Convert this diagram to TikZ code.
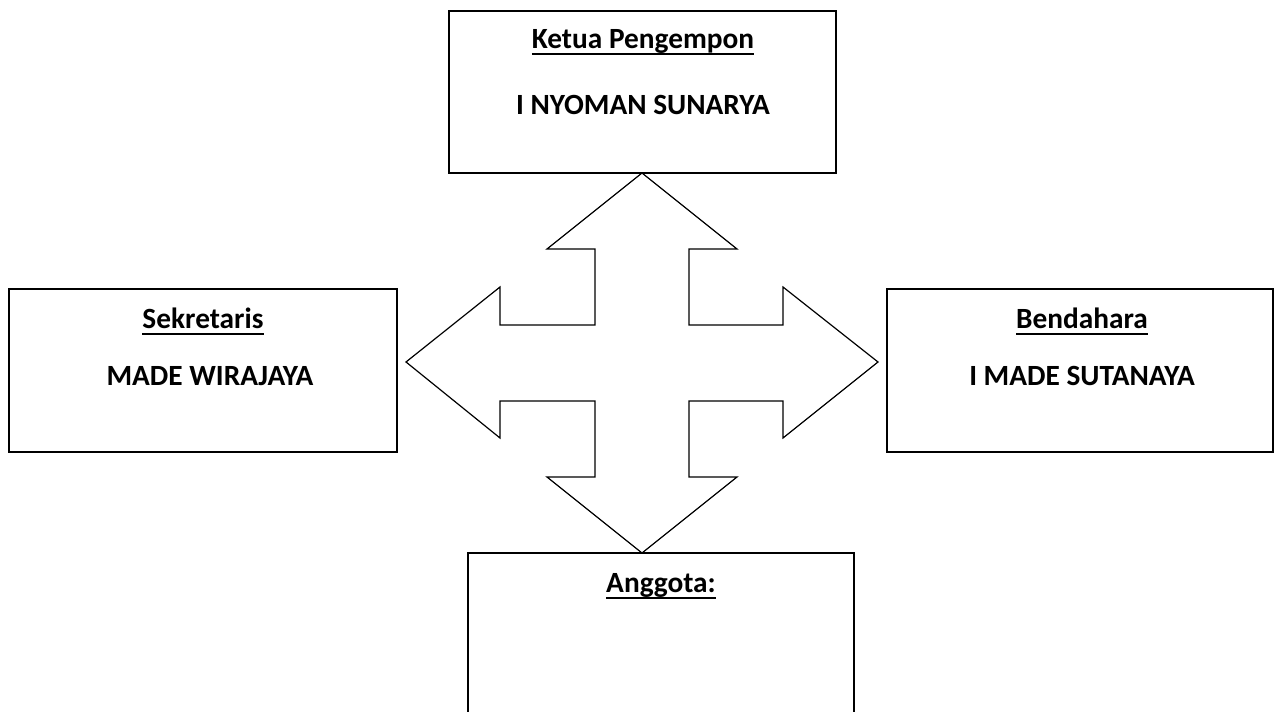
\documentclass[tikz,border=0pt]{standalone}
\usepackage{fontspec}
\setmainfont{Carlito}
\newcommand\ulbox[1]{\setbox0\hbox{#1}\rlap{\vrule height -3.3pt depth 4.6pt width \wd0}\box0}
\tikzset{
  post/.style={draw, line width=1.5pt, minimum width=#1, inner sep=0pt},
  label text/.style={anchor=base, font=\fontsize{22}{26}\selectfont\bfseries},
}
\begin{document}
\begin{tikzpicture}[x=0.75pt, y=-0.75pt]
      \useasboundingbox (0,0) rectangle (1275,712);
      \clip (0,0) rectangle (1275,712);
      \node[post=290.25pt, minimum height=121.5pt] (ketua) at (642.5,92) {};
      \node[post=291pt, minimum height=122.25pt] (sekretaris) at (203,370.5) {};
      \node[post=289.5pt, minimum height=122.25pt] (bendahara) at (1080,370.5) {};
      \node[post=289.5pt, minimum height=150pt] (anggota) at (661,653) {};
      % texts
      \node[label text] (ketua title) at (643,49) {\ulbox{Ketua Pengempon}};
      \node[label text] (ketua name) at (643,115) {I NYOMAN SUNARYA};
      \node[label text] (sekretaris title) at (203,329) {\ulbox{Sekretaris}};
      \node[label text] (sekretaris name) at (210,386) {MADE WIRAJAYA};
      \node[label text] (bendahara title) at (1082,329) {\ulbox{Bendahara}};
      \node[label text] (bendahara name) at (1082,386) {I MADE SUTANAYA};
      \node[label text] (anggota title) at (661,593) {\ulbox{Anggota:}};
      % four-way arrow
      \draw[line width=0.9pt, line join=miter]
        (642,173) -- (737,249) -- (689,249) -- (689,325) -- (783,325) -- (783,287)
        -- (878,362) -- (783,438) -- (783,401) -- (689,401) -- (689,477) -- (737,477)
        -- (642,553) -- (547,477) -- (595,477) -- (595,401) -- (500,401) -- (500,438)
        -- (406,362) -- (500,287) -- (500,325) -- (595,325) -- (595,249) -- (547,249)
        -- cycle;
    \end{tikzpicture}
\end{document}
